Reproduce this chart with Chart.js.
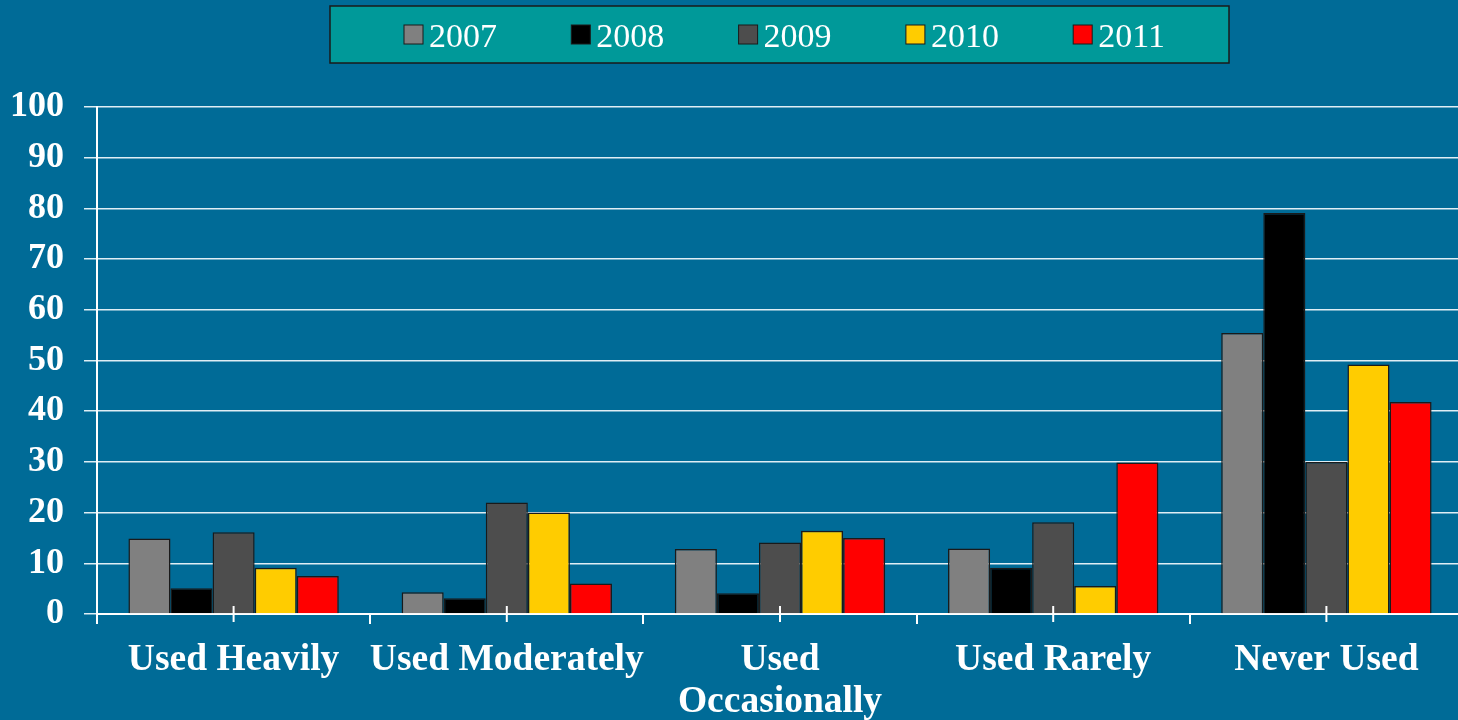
<!DOCTYPE html>
<html>
<head>
<meta charset="utf-8">
<script src="https://cdn.jsdelivr.net/npm/chart.js@4/dist/chart.umd.min.js"></script>
<style>
  html, body { margin: 0; padding: 0; background: #006b97; overflow: hidden; }
  #wrap { position: relative; width: 1463px; height: 720px; }
</style>
</head>
<body>
<div id="wrap"><canvas id="myChartContainer"></canvas></div>
<script>
// datos del grafico
const categories = ['Used Heavily', 'Used Moderately', ['Used', 'Occasionally'], 'Used Rarely', 'Never Used'];
const years = ['2007', '2008', '2009', '2010', '2011'];
const yearColors = ['#808080', '#000000', '#4d4d4d', '#ffcc00', '#ff0000'];

const values2007 = [14.9, 4.3, 12.8, 12.9, 55.4];
const values2008 = [5.1, 3.1, 4.1, 9.1, 79.1];
const values2009 = [16.1, 22.0, 14.1, 18.1, 30.0];
const values2010 = [9.1, 20.0, 16.4, 5.5, 49.2];
const values2011 = [7.5, 6.0, 15.0, 29.9, 41.8];

const yTicks = [0, 10, 20, 30, 40, 50, 60, 70, 80, 90, 100];

const allValues = [values2007, values2008, values2009, values2010, values2011];

// Leyenda dibujada a mano (caja turquesa)
const legendBox = {
  id: 'legendBox',
  afterDraw(chart) {
    const ctx = chart.ctx;
    ctx.save();
    ctx.fillStyle = '#009999';
    ctx.fillRect(330, 6, 899, 57);
    ctx.strokeStyle = '#1a1a1a';
    ctx.lineWidth = 1.5;
    ctx.strokeRect(330, 6, 899, 57);

    chart.data.datasets.forEach((ds, i) => {
      const x = 404 + i * 167.3;
      ctx.fillStyle = ds.backgroundColor;
      ctx.fillRect(x, 25, 19, 19);
      ctx.strokeStyle = '#1a1a1a';
      ctx.lineWidth = 1;
      ctx.strokeRect(x, 25, 19, 19);

      ctx.fillStyle = '#ffffff';
      ctx.font = '34px "Liberation Serif"';
      ctx.textBaseline = 'alphabetic';
      ctx.fillText(ds.label, x + 25, 47);
    });
    ctx.restore();
  }
};

// marcas pequenas en el centro de cada categoria
const midTicks = {
  id: 'midTicks',
  afterDraw(chart) {
    const ctx = chart.ctx;
    const xScale = chart.scales.x;
    const bottom = chart.chartArea.bottom;
    ctx.save();
    ctx.strokeStyle = '#ffffff';
    ctx.lineWidth = 2;
    categories.forEach((c, i) => {
      const px = xScale.getPixelForValue(i);
      ctx.beginPath();
      ctx.moveTo(px, bottom - 8);
      ctx.lineTo(px, bottom + 8);
      ctx.stroke();
    });
    ctx.restore();
  }
};

window.createChart = function() {
  const ctx = document.getElementById('myChartContainer').getContext('2d');

  const datasets = years.map((y, i) => ({
    label: y,
    data: allValues[i],
    backgroundColor: yearColors[i],
    borderColor: '#1a1a1a',
    borderWidth: 1.5,
    barPercentage: 1,
    categoryPercentage: 0.77
  }));

  return new Chart(ctx, {
    type: 'bar',
    data: { labels: categories, datasets: datasets },
    options: {
      responsive: true,
      maintainAspectRatio: false,
      animation: false,
      layout: { padding: { top: 107, right: 0, left: 0, bottom: 0 } },
      plugins: {
        legend: { display: false },
        tooltip: { enabled: false }
      },
      scales: {
        x: {
          afterFit(scale) { scale.height = 106; },
          border: { color: '#ffffff', width: 2 },
          grid: {
            offset: true,
            drawOnChartArea: false,
            color: '#ffffff',
            lineWidth: 2,
            tickLength: 10,
            tickWidth: 2
          },
          ticks: {
            color: '#ffffff',
            padding: 15,
            maxRotation: 0,
            autoSkip: false,
            font: { family: 'Liberation Serif', size: 37.5, weight: 'bold', lineHeight: 1.13 }
          }
        },
        y: {
          min: 0,
          max: 100,
          afterFit(scale) { scale.width = 97; },
          afterBuildTicks(scale) { scale.ticks = yTicks.map(v => ({ value: v })); },
          border: { color: '#ffffff', width: 2 },
          grid: {
            color: 'rgba(235,245,250,0.95)',
            lineWidth: 1.5,
            tickLength: 13
          },
          ticks: {
            color: '#ffffff',
            padding: 20,
            font: { family: 'Liberation Serif', size: 36, weight: 'bold' }
          }
        }
      }
    },
    plugins: [legendBox, midTicks]
  });
};

createChart();
</script>
</body>
</html>
